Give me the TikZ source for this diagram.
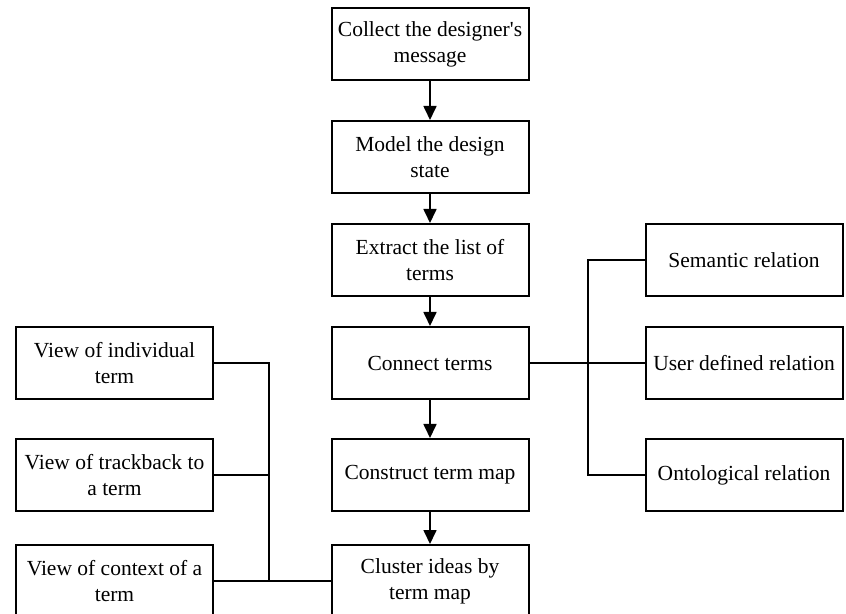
\documentclass[tikz,border=0pt]{standalone}
\usepackage{fontspec}
\setmainfont{Liberation Serif}
\usetikzlibrary{positioning}
\usetikzlibrary{calc}
\usetikzlibrary{arrows.meta}
\tikzset{>={Triangle[length=7pt,width=6.5pt]}}
\tikzset{stepbox/.style={draw, line width=1pt, rectangle, minimum width=98.5pt, minimum height=36pt, inner sep=0pt, align=center, font=\fontsize{10.75pt}{13pt}\selectfont}}
\tikzset{link/.style={line width=0.85pt}}

\begin{document}
\begin{tikzpicture}[x=0.5pt, y=-0.5pt]
\useasboundingbox (0,0) rectangle (846,614);
\begin{scope}[on grid]
\node[stepbox] (coll) at (430, 44.5) {Collect the designer\textquotesingle s\\message};
\node[stepbox] (model) at (430, 157) {Model the design\\state};
\node[stepbox] (extr) at (430, 260) {Extract the list of\\terms};
\node[stepbox] (conn) at (430, 363) {Connect terms};
\node[stepbox] (cons) at (430, 475) {Construct term map};
\node[stepbox] (clus) at (430, 581) {Cluster ideas by\\term map};

\node[stepbox] (ind) [left = 157.75pt of conn] {View of individual\\term};
\node[stepbox] (trk) [left = 157.75pt of cons] {View of trackback to\\a term};
\node[stepbox] (ctx) [left = 157.75pt of clus] {View of context of a\\term};

\node[stepbox] (sem) [right = 157pt of extr] {Semantic relation};
\node[stepbox] (user) [right = 157pt of conn] {User defined relation};
\node[stepbox] (onto) [right = 157pt of cons] {Ontological relation};

\draw[link,->] (coll) -- (model);
\draw[link,->] (model) -- (extr);
\draw[link,->] (extr) -- (conn);
\draw[link,->] (conn) -- (cons);
\draw[link,->] (cons) -- (clus);

% relations on the right
\coordinate (rj) at ($(conn.east)!0.51!(user.west)$);
\draw[link] (conn) -- (user);
\draw[link] (sem.west) -| (rj) |- (onto.west);

% views on the left
\coordinate (lj) at ($(ctx.east)!0.47!(clus.west)$);
\draw[link] (ctx) -- (clus);
\draw[link] (ind.east) -| (lj) -- (lj |- ctx.east);
\draw[link] (trk.east) -- (trk.east -| lj);
\end{scope}
\end{tikzpicture}
\end{document}
